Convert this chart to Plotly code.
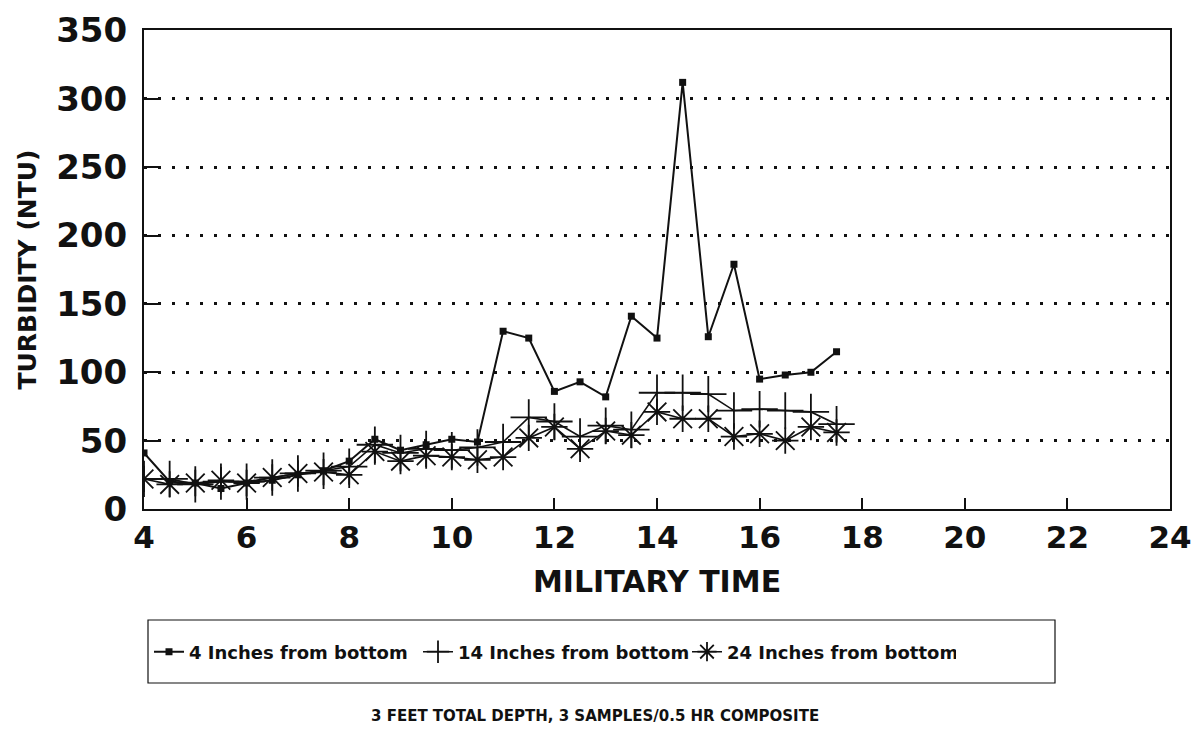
import plotly.graph_objects as go

# ---- data ----
times = [4, 4.5, 5, 5.5, 6, 6.5, 7, 7.5, 8, 8.5, 9, 9.5, 10, 10.5,
         11, 11.5, 12, 12.5, 13, 13.5, 14, 14.5, 15, 15.5, 16, 16.5, 17, 17.5]

in4 = [41, 20, 19, 15, 19, 21, 25, 28, 35, 51, 43, 47, 51, 49,
       130, 125, 86, 93, 82, 141, 125, 312, 126, 179, 95, 98, 100, 115]

in14 = [22, 22, 18, 20, 20, 23, 26, 28, 31, 47, 41, 44, 43, 45,
        49, 67, 64, 53, 61, 58, 85, 85, 84, 72, 73, 72, 71, 62]

in24 = [22, 18, 19, 21, 19, 23, 26, 27, 25, 42, 35, 39, 38, 36,
        38, 52, 60, 44, 57, 54, 71, 66, 66, 53, 55, 50, 60, 56]

series_names = ["4 Inches from bottom", "14 Inches from bottom", "24 Inches from bottom"]
x_ticks = [4, 6, 8, 10, 12, 14, 16, 18, 20, 22, 24]
y_ticks = [0, 50, 100, 150, 200, 250, 300, 350]

x_title = "MILITARY TIME"
y_title = "TURBIDITY (NTU)"
footnote = "3 FEET TOTAL DEPTH, 3 SAMPLES/0.5 HR COMPOSITE"

FONT = "DejaVu Sans"
BLACK = "#111111"
OFF = 8  # page body margin

fig = go.Figure()

fig.add_trace(go.Scatter(
    x=times, y=in4, name=series_names[0], mode="lines+markers",
    line=dict(color=BLACK, width=2),
    marker=dict(symbol="square", size=7, color=BLACK),
))
fig.add_trace(go.Scatter(
    x=times, y=in14, name=series_names[1], mode="lines+markers",
    line=dict(color=BLACK, width=1.6),
    marker=dict(symbol="cross-thin-open", size=26, color=BLACK,
                line=dict(color=BLACK, width=1.8)),
))
fig.add_trace(go.Scatter(
    x=times, y=in24, name=series_names[2], mode="lines+markers",
    line=dict(color=BLACK, width=1.6),
    marker=dict(symbol="asterisk-open", size=22, color=BLACK,
                line=dict(color=BLACK, width=1.8)),
))

W, H = 1184, 724
L, R, T, B = 136, 22, 22, 223
pw, ph = W - L - R, H - T - B

def rx(x_ref):
    return (x_ref - OFF - L) / pw

def ry(y_ref):
    return (H - B - (y_ref - OFF)) / ph

fig.update_layout(
    width=W, height=H,
    margin=dict(l=L, r=R, t=T, b=B, autoexpand=False),
    paper_bgcolor="white", plot_bgcolor="white",
    font=dict(family=FONT, color=BLACK),
    showlegend=True,
    legend=dict(
        orientation="h",
        x=rx(149), xanchor="left",
        y=ry(652), yanchor="middle",
        font=dict(family=FONT, size=18, color=BLACK, weight="bold"),
        entrywidth=224, entrywidthmode="pixels",
        bgcolor="rgba(0,0,0,0)", borderwidth=0,
        itemsizing="trace",
    ),
    shapes=[dict(
        type="rect", xref="paper", yref="paper",
        x0=rx(148), x1=rx(1055), y0=ry(683), y1=ry(620),
        line=dict(color=BLACK, width=1.2), fillcolor="rgba(0,0,0,0)",
    )],
    annotations=[dict(
        text=footnote, xref="paper", yref="paper",
        x=rx(595), y=ry(716), xanchor="center", yanchor="middle",
        showarrow=False,
        font=dict(family=FONT, size=15, color=BLACK, weight="bold"),
    )],
)

fig.update_xaxes(
    range=[4, 24], tickvals=x_ticks, ticktext=[str(v) for v in x_ticks],
    showgrid=False, zeroline=False,
    showline=True, linecolor=BLACK, linewidth=2, mirror=True,
    ticks="inside", ticklen=11, tickwidth=1.5, tickcolor=BLACK,
    tickfont=dict(family=FONT, size=31, color=BLACK, weight="bold"),
    ticklabeloverflow="allow",
    title=dict(text=x_title, standoff=17,
               font=dict(family=FONT, size=30, color=BLACK, weight="bold")),
    automargin=False,
)
fig.update_yaxes(
    range=[0, 350.3], tickvals=y_ticks, ticktext=[str(v) for v in y_ticks],
    showgrid=True, gridcolor=BLACK, gridwidth=2.5, griddash="3px,11px",
    zeroline=False,
    showline=True, linecolor=BLACK, linewidth=2, mirror=True,
    ticks="inside", ticklen=15, tickwidth=1.5, tickcolor=BLACK,
    tickfont=dict(family=FONT, size=34, color=BLACK, weight="bold"),
    ticklabeloverflow="allow",
    ticklabelstandoff=8,
    title=dict(text=y_title, standoff=12,
               font=dict(family=FONT, size=25, color=BLACK, weight="bold")),
    automargin=False,
)

fig.write_html("out.html")
